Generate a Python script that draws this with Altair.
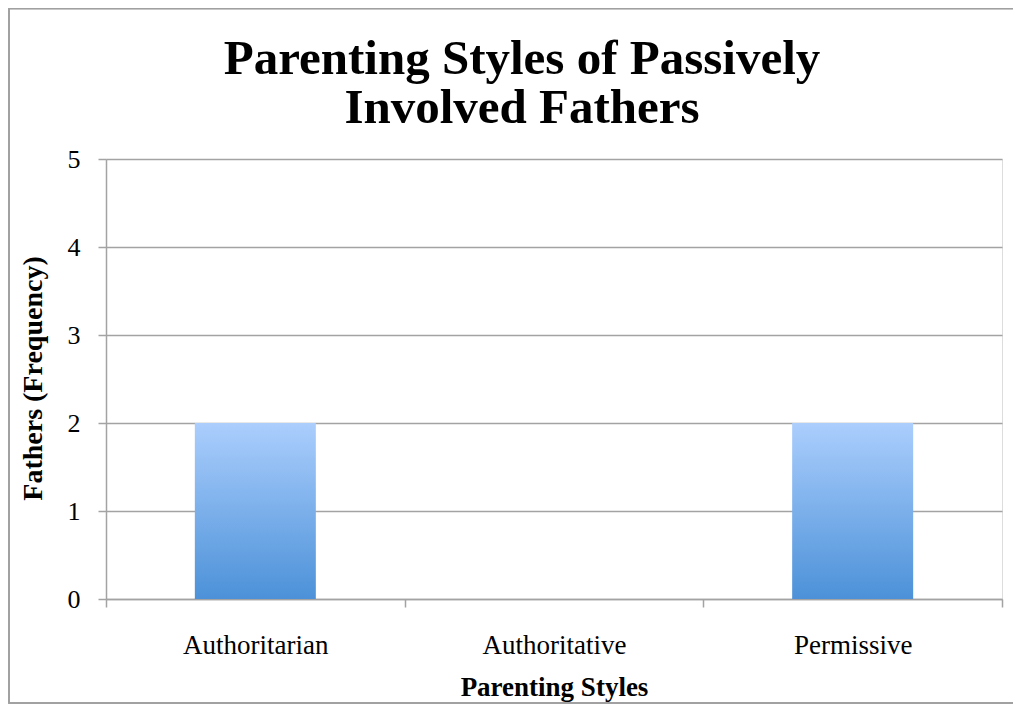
import altair as alt
import pandas as pd

categories = ["Authoritarian", "Authoritative", "Permissive"]
counts = [2, 0, 2]
y_ticks = [0, 1, 2, 3, 4, 5]
title_lines = ["Parenting Styles of Passively", "Involved Fathers"]
x_title = "Parenting Styles"
y_title = "Fathers (Frequency)"

df = pd.DataFrame({"style": categories, "count": counts})

FONT = "Liberation Serif"
GRAY = "#a3a3a3"

gradient = alt.Gradient(
    gradient="linear",
    stops=[
        alt.GradientStop(color="#abcefd", offset=0),
        alt.GradientStop(color="#4c91d8", offset=1),
    ],
    x1=0, x2=0, y1=0, y2=1,
)

x = alt.X(
    "style:N",
    sort=categories,
    scale=alt.Scale(paddingInner=0, paddingOuter=0),
    axis=alt.Axis(
        title=x_title,
        labelAngle=0,
        labelFont=FONT,
        labelFontSize=27,
        labelColor="black",
        labelBaseline="alphabetic",
        labelPadding=46,
        tickBand="extent",
        tickSize=8,
        tickColor=GRAY,
        tickWidth=1.5,
        domainColor=GRAY,
        domainWidth=1.5,
        titleFont=FONT,
        titleFontSize=27,
        titleFontWeight="bold",
        titleColor="black",
        titleX=448,
        titleY=96,
        titleAlign="center",
        titleBaseline="alphabetic",
    ),
)

y = alt.Y(
    "count:Q",
    scale=alt.Scale(domain=[0, 5], nice=False),
    axis=alt.Axis(
        title=y_title,
        values=y_ticks,
        format="d",
        labelFont=FONT,
        labelFontSize=26,
        labelColor="black",
        labelPadding=18,
        tickSize=8,
        tickColor=GRAY,
        tickWidth=1.5,
        domainColor=GRAY,
        domainWidth=1.5,
        grid=True,
        gridColor=GRAY,
        gridWidth=1.5,
        titleFont=FONT,
        titleFontSize=28,
        titleFontWeight="bold",
        titleColor="black",
        titleAngle=270,
        titleX=-73,
        titleY=219,
        titleAlign="center",
        titleBaseline="middle",
    ),
)

bars = alt.Chart(df).mark_bar(size=121, color=gradient).encode(x=x, y=y)

border = alt.Chart(df).mark_rect(
    fill=None, stroke="#a0a0a0", strokeWidth=1.5
).encode(
    x=alt.value(-97), x2=alt.value(940),
    y=alt.value(-150.5), y2=alt.value(544),
)

chart = alt.layer(border, bars).properties(
    width=896,
    height=440,
    autosize=alt.AutoSizeParams(type="none"),
    padding={"left": 98, "top": 151, "right": 11, "bottom": 105},
    title=alt.TitleParams(
        text=title_lines,
        font=FONT,
        fontSize=49,
        fontWeight="bold",
        color="black",
        anchor="middle",
        frame="group",
        baseline="alphabetic",
        lineHeight=49,
        dx=-32,
        offset=-164,
    ),
).configure_view(stroke=None).configure(background="white")

chart.save("out.html", embed_options={"renderer": "svg", "actions": False})
